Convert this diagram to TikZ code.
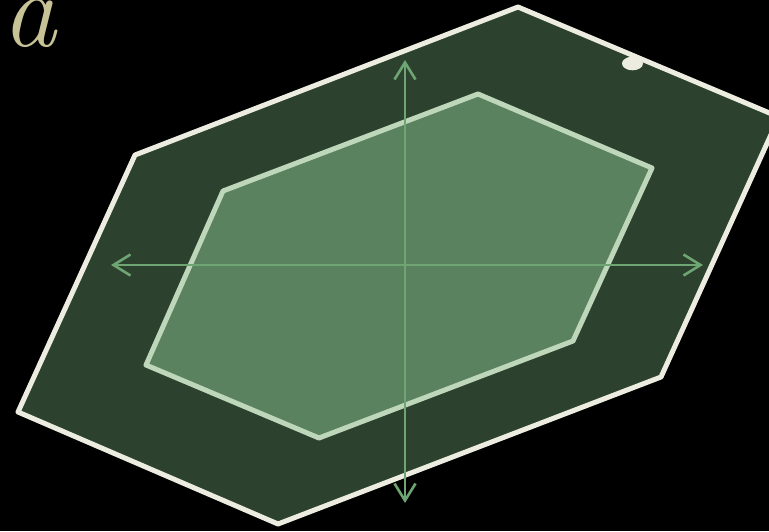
\documentclass[tikz,border=0pt]{standalone}
\usetikzlibrary{arrows.meta}
\definecolor{bgc}{RGB}{0,0,0}
\definecolor{outerfill}{RGB}{45,66,46}
\definecolor{outerline}{RGB}{236,236,224}
\definecolor{innerfill}{RGB}{90,130,95}
\definecolor{innerline}{RGB}{190,214,186}
\definecolor{axisc}{RGB}{110,165,115}
\definecolor{textc}{RGB}{200,195,150}
\tikzset{
  outerhex/.style={fill=outerfill, draw=outerline, line width=5pt, line join=round},
  innerhex/.style={fill=innerfill, draw=innerline, line width=5pt, line join=round},
  axisline/.style={draw=axisc, line width=2.6pt, {Straight Barb[length=17pt,width=21pt,line width=2.6pt]}-{Straight Barb[length=17pt,width=21pt,line width=2.6pt]}},
}
\begin{document}
\begin{tikzpicture}[x=1pt,y=-1pt]
\fill[bgc] (0,0) rectangle (769,531);
\useasboundingbox (0,0) rectangle (769,531);
\begin{scope}
\clip (0,0) rectangle (769,531);
% outer hexagon
\coordinate (o1) at (518,7);
\coordinate (o2) at (779,117);
\coordinate (o3) at (661,377);
\coordinate (o4) at (278,524);
\coordinate (o5) at (18,412);
\coordinate (o6) at (135,155);
\path[outerhex] (o1) -- (o2) -- (o3) -- (o4) -- (o5) -- (o6) -- cycle;
% dot
\fill[outerline] (632.5,63.5) ellipse [x radius=10.5pt, y radius=6.8pt];
% inner hexagon
\coordinate (i1) at (478,94);
\coordinate (i2) at (652,168);
\coordinate (i3) at (573,341);
\coordinate (i4) at (319,438);
\coordinate (i5) at (146,365);
\coordinate (i6) at (223,191);
\path[innerhex] (i1) -- (i2) -- (i3) -- (i4) -- (i5) -- (i6) -- cycle;
% axes
\coordinate (vt) at (405,60);
\coordinate (vb) at (405,503);
\coordinate (hl) at (111,265);
\coordinate (hr) at (703,265);
\draw[axisline] (vb) -- (vt);
\draw[axisline] (hl) -- (hr);
% label
\node[anchor=base west, inner sep=0pt, text=textc, font=\fontsize{108}{108}\selectfont\itshape] (lbl) at (2,46) {a};
\end{scope}
\end{tikzpicture}
\end{document}
